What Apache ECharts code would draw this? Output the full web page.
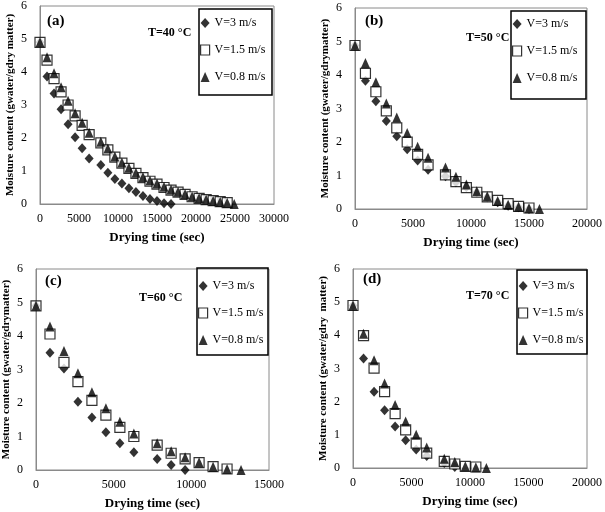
<!DOCTYPE html>
<html>
<head>
<meta charset="utf-8">
<script src="https://cdn.jsdelivr.net/npm/echarts@6/dist/echarts.min.js"></script>
<style>
    html, body { margin: 0; padding: 0; background: #fff; }
    #main { width: 605px; height: 512px; }
</style>
</head>
<body>
<div id="main"></div>
<script>
    // drying times (sec), shared by all four runs
    var times = [0, 900, 1800, 2700, 3600, 4500, 5400, 6300, 7800, 8700, 9600, 10500, 11400,
        12300, 13200, 14100, 15000, 15900, 16800, 17700, 18600, 19500, 20400, 21300, 22200, 23100, 24000, 24900];

    var seriesNames = ['V=3 m/s', 'V=1.5 m/s', 'V=0.8 m/s'];

    // (a) T=40 °C
    var a_v3 = [4.9, 3.86, 3.35, 2.87, 2.42, 2.02, 1.69, 1.38, 1.18, 0.95, 0.76, 0.62, 0.48, 0.36, 0.24, 0.15, 0.09, 0.02, 0];
    var a_v15 = [4.9, 4.36, 3.8, 3.4, 3.0, 2.67, 2.38, 2.1, 1.85, 1.64, 1.42, 1.24, 1.08, 0.93, 0.8, 0.69, 0.6, 0.5, 0.42,
        0.36, 0.29, 0.22, 0.17, 0.13, 0.1, 0.07, 0.04];
    var a_v08 = [4.9, 4.45, 3.96, 3.54, 3.13, 2.75, 2.46, 2.16, 1.89, 1.68, 1.44, 1.26, 1.1, 0.95, 0.82, 0.71, 0.62, 0.52, 0.44,
        0.37, 0.3, 0.23, 0.18, 0.14, 0.1, 0.07, 0.04, 0];

    // (b) T=50 °C
    var b_v3 = [4.88, 3.83, 3.22, 2.63, 2.17, 1.78, 1.45, 1.17, 0.98, 0.8, 0.65, 0.5, 0.35, 0.2, 0.1, 0.05, 0];
    var b_v15 = [4.88, 4.05, 3.5, 2.93, 2.42, 2.0, 1.63, 1.32, 1.02, 0.82, 0.64, 0.5, 0.36, 0.26, 0.16, 0.08, 0.03];
    var b_v08 = [4.88, 4.36, 3.78, 3.15, 2.73, 2.27, 1.86, 1.53, 1.24, 0.96, 0.73, 0.53, 0.38, 0.24, 0.13, 0.07, 0.02, 0];

    // (c) T=60 °C
    var c_v3 = [4.9, 3.5, 3.03, 2.04, 1.57, 1.13, 0.8, 0.53, 0.33, 0.15, 0];
    var c_v15 = [4.9, 4.06, 3.21, 2.64, 2.08, 1.64, 1.27, 1.0, 0.74, 0.5, 0.33, 0.22, 0.1, 0.03];
    var c_v08 = [4.9, 4.28, 3.55, 2.89, 2.32, 1.84, 1.44, 1.09, 0.8, 0.56, 0.38, 0.23, 0.1, 0.03, 0];

    // (d) T=70 °C
    var d_v3 = [4.9, 3.3, 2.3, 1.74, 1.25, 0.84, 0.56, 0.36, 0.15, 0.03];
    var d_v15 = [4.9, 3.99, 3.01, 2.3, 1.64, 1.15, 0.75, 0.45, 0.2, 0.12, 0.05, 0.03];
    var d_v08 = [4.9, 4.05, 3.25, 2.55, 1.9, 1.4, 1.0, 0.62, 0.28, 0.18, 0.05, 0.02, 0];

    var xMaxes = [30000, 20000, 15000, 20000];
    var yNames = ['Moisture content (gwater/gdry matter)', 'Moisture content (gwater/gdrymatter)',
        'Moisture content (gwater/gdrymatter)', 'Moisture content (gwater/gdry  matter)'];
    var panelLabels = ['(a)', '(b)', '(c)', '(d)'];
    var tempLabels = ['T=40 °C', 'T=50 °C', 'T=60 °C', 'T=70 °C'];

    var FONT = "'Liberation Serif', 'Times New Roman', serif";

    // layout of each panel: plot area, legend frame, annotation positions
    var panels = [
        { grid: { left: 40, top: 6, width: 234, height: 198 }, box: [199, 9, 73, 86], legendTop: 17,
          label: { left: 47, top: 14 }, temp: { left: 148, top: 27 }, data: [a_v3, a_v15, a_v08] },
        { grid: { left: 355, top: 8, width: 232, height: 201 }, box: [511, 11, 75, 88], legendTop: 18,
          label: { left: 365, top: 14 }, temp: { left: 466, top: 32 }, data: [b_v3, b_v15, b_v08] },
        { grid: { left: 36, top: 269, width: 233, height: 201 }, box: [197, 268, 71, 87], legendTop: 280,
          label: { left: 45, top: 274 }, temp: { left: 139, top: 292 }, data: [c_v3, c_v15, c_v08] },
        { grid: { left: 353, top: 269, width: 235, height: 199 }, box: [517, 270, 70, 84], legendTop: 280,
          label: { left: 363, top: 272 }, temp: { left: 466, top: 290 }, data: [d_v3, d_v15, d_v08] }
    ];

    function pairs(vals) {
        return vals.map(function(v, i) { return [times[i], v]; });
    }

    var symbolStyles = [
        { symbol: 'diamond', symbolSize: [9, 10], itemStyle: { color: '#000' } },
        { symbol: 'rect', symbolSize: 10, itemStyle: { color: '#fff', borderColor: '#000', borderWidth: 1.2 } },
        { symbol: 'triangle', symbolSize: [9, 10], itemStyle: { color: '#000' } }
    ];

    var option = {
        backgroundColor: '#fff',
        animation: false,
        textStyle: { fontFamily: FONT },
        title: [],
        legend: [],
        grid: [],
        xAxis: [],
        yAxis: [],
        graphic: [],
        series: []
    };

    panels.forEach(function(p, k) {
        option.grid.push({
            left: p.grid.left, top: p.grid.top, width: p.grid.width, height: p.grid.height,
            show: true, borderColor: '#8a8a8a', borderWidth: 1
        });
        option.xAxis.push({
            gridIndex: k,
            type: 'value',
            min: 0,
            max: xMaxes[k],
            interval: 5000,
            name: 'Drying time (sec)',
            nameLocation: 'middle',
            nameGap: 27,
            nameTextStyle: { fontFamily: FONT, fontWeight: 'bold', fontSize: 13, color: '#000' },
            axisLine: { lineStyle: { color: '#8a8a8a' } },
            axisTick: { show: false },
            splitLine: { show: false },
            axisLabel: {
                fontFamily: FONT, fontSize: 12, color: '#000', margin: 9,
                formatter: function(v) { return String(v); }
            }
        });
        option.yAxis.push({
            gridIndex: k,
            type: 'value',
            min: 0,
            max: 6,
            interval: 1,
            name: yNames[k],
            nameLocation: 'middle',
            nameGap: 24,
            nameTextStyle: { fontFamily: FONT, fontWeight: 'bold', fontSize: 11, color: '#000' },
            axisLine: { show: true, lineStyle: { color: '#8a8a8a' } },
            axisTick: { show: false },
            splitLine: { show: false },
            axisLabel: { fontFamily: FONT, fontSize: 12, color: '#000', margin: 13 }
        });
        option.title.push({
            text: panelLabels[k], left: p.label.left, top: p.label.top, padding: 0,
            textStyle: { fontFamily: FONT, fontWeight: 'bold', fontSize: 15, color: '#000' }
        });
        option.title.push({
            text: tempLabels[k], left: p.temp.left, top: p.temp.top, padding: 0,
            textStyle: { fontFamily: FONT, fontWeight: 'bold', fontSize: 12, color: '#000' }
        });
        // legend frame
        option.graphic.push({
            type: 'rect',
            shape: { x: p.box[0], y: p.box[1], width: p.box[2], height: p.box[3] },
            style: { fill: 'none', stroke: '#000', lineWidth: 1.5 },
            z: 10
        });
        option.legend.push({
            orient: 'vertical',
            left: p.box[0] + 1,
            top: p.legendTop,
            padding: 0,
            itemGap: 15,
            itemWidth: 9,
            itemHeight: 10,
            textStyle: { fontFamily: FONT, fontSize: 12, color: '#000' },
            data: seriesNames.map(function(n, j) {
                return { name: n, icon: symbolStyles[j].symbol, itemStyle: symbolStyles[j].itemStyle };
            })
        });
        p.data.forEach(function(vals, j) {
            option.series.push({
                name: seriesNames[j],
                type: 'scatter',
                xAxisIndex: k,
                yAxisIndex: k,
                clip: false,
                symbol: symbolStyles[j].symbol,
                symbolSize: symbolStyles[j].symbolSize,
                itemStyle: symbolStyles[j].itemStyle,
                data: pairs(vals)
            });
        });
    });

    var myChart = echarts.init(document.getElementById('main'));
    myChart.setOption(option);
</script>
</body>
</html>
